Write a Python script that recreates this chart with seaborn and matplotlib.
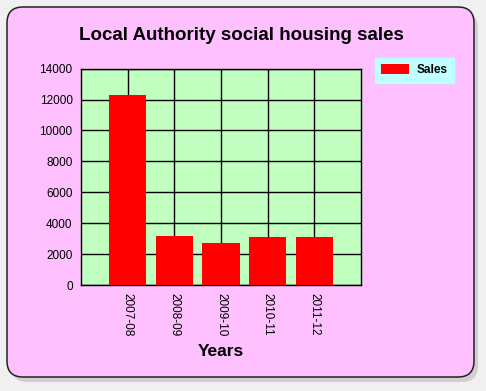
import matplotlib
matplotlib.use("Agg")
import matplotlib.pyplot as plt
import seaborn as sns
import pandas as pd
from matplotlib.patches import FancyBboxPatch, Patch

years = ["2007-08", "2008-09", "2009-10", "2010-11", "2011-12"]
sales = [12300, 3170, 2720, 3110, 3110]
yticks = [0, 2000, 4000, 6000, 8000, 10000, 12000, 14000]

sns.set_theme(style="white")
plt.rcParams['font.family'] = ['Liberation Sans', 'DejaVu Sans']
plt.rcParams['text.color'] = 'black'

W, H = 486, 391
fig = plt.figure(figsize=(W / 100, H / 100), dpi=100)
fig.patch.set_facecolor("#F0F0F0")

# shadow + rounded panel (pixel coordinates)
shadow = FancyBboxPatch((11, 9), 467, 370, boxstyle="round,pad=0,rounding_size=16",
                        transform=None, facecolor="#BBBBBB", edgecolor="none", alpha=0.6, zorder=0)
panel = FancyBboxPatch((7, 14), 467, 370, boxstyle="round,pad=0,rounding_size=16",
                       transform=None, facecolor="#FFC0FF", edgecolor="#222222", linewidth=1.1, zorder=1)
fig.add_artist(shadow)
fig.add_artist(panel)

ax = fig.add_axes([81 / W, (H - 285) / H, 280 / W, 216.3 / H])
ax.set_zorder(2)
df = pd.DataFrame({"Year": years, "Sales": sales})
sns.barplot(data=df, x="Year", y="Sales", color="#FF0000", saturation=1, width=0.8, ax=ax,
            zorder=3, linewidth=0, edgecolor="none")
ax.set_facecolor("#C0FFC0")
ax.set_xlim(-1, 5)
ax.set_ylim(0, 14000)
ax.set_yticks(yticks)
ax.set_yticklabels([str(v) for v in yticks], fontsize=8.5, color="#000000")
ax.set_xticks(range(len(years)))
ax.set_xticklabels(years, rotation=270, fontsize=8.5, color="#000000")
ax.set_xticks([-1, 5], minor=True)
ax.grid(True, color="black", linewidth=1)
ax.set_axisbelow(True)
for s in ax.spines.values():
    s.set_color("black")
    s.set_linewidth(1)
ax.tick_params(axis="both", which="both", direction="out", length=4, width=1, color="black", pad=2)
ax.set_xlabel("")
ax.set_ylabel("")

fig.text(241 / W, 1 - 36 / H, "Local Authority social housing sales", ha="center", va="center",
         fontsize=13.5, fontweight="bold", color="#000000")
fig.text(221 / W, 1 - 351 / H, "Years", ha="center", va="center",
         fontsize=12.5, fontweight="bold", color="#000000")

leg = fig.legend(handles=[Patch(facecolor="#FF0000", edgecolor="none", label="Sales")],
                 loc="upper left", bbox_to_anchor=(375 / W, 1 - 57.7 / H),
                 frameon=True, fancybox=False, facecolor="#C0FFFF", edgecolor="#C0FFFF",
                 framealpha=1, prop={"weight": "bold", "size": 8.5}, handlelength=2.3,
                 handleheight=0.9, borderpad=0.55, handletextpad=0.7, borderaxespad=0,
                 labelcolor="black")
leg.set_zorder(5)

fig.savefig("out.png", dpi=100, facecolor=fig.get_facecolor())
